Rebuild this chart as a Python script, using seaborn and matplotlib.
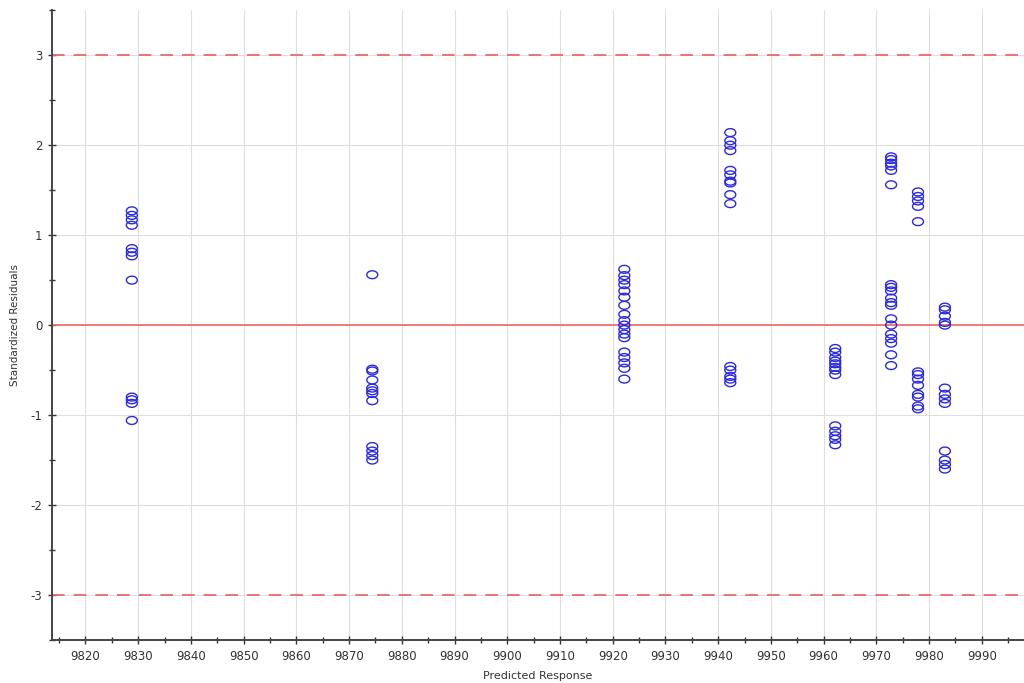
import numpy as np
import pandas as pd
import matplotlib
matplotlib.use("Agg")
import matplotlib.pyplot as plt
from matplotlib.path import Path
from matplotlib.ticker import MultipleLocator
import seaborn as sns

# Predicted response of each run group and the standardized residuals observed there
pred_a = 9828.8
resid_a = [1.27, 1.22, 1.17, 1.11, 0.85, 0.81, 0.77, 0.50, -0.80, -0.83, -0.87, -1.06]

pred_b = 9874.4
resid_b = [0.56, -0.49, -0.51, -0.61, -0.70, -0.73, -0.76, -0.84, -1.35, -1.40, -1.45, -1.50]

pred_c = 9922.2
resid_c = [0.62, 0.55, 0.50, 0.45, 0.38, 0.31, 0.22, 0.12, 0.05, 0.0, -0.05,
           -0.10, -0.14, -0.30, -0.36, -0.42, -0.48, -0.60]

pred_d = 9942.3
resid_d = [2.14, 2.05, 2.00, 1.94, 1.72, 1.67, 1.60, 1.58, 1.45, 1.35,
           -0.46, -0.50, -0.57, -0.60, -0.64]

pred_e = 9962.2
resid_e = [-0.26, -0.30, -0.36, -0.40, -0.43, -0.47, -0.50, -0.55,
           -1.12, -1.18, -1.23, -1.27, -1.33]

pred_f = 9972.8
resid_f = [1.87, 1.84, 1.80, 1.77, 1.72, 1.56, 0.45, 0.42, 0.38, 0.30, 0.25,
           0.22, 0.07, 0.0, -0.10, -0.15, -0.20, -0.33, -0.45]

pred_g = 9977.9
resid_g = [1.48, 1.43, 1.38, 1.32, 1.15, -0.52, -0.55, -0.60, -0.67, -0.77,
           -0.80, -0.90, -0.93]

pred_h = 9983.0
resid_h = [0.20, 0.17, 0.10, 0.03, 0.0, -0.70, -0.77, -0.82, -0.87,
           -1.40, -1.50, -1.55, -1.60]

groups = [(pred_a, resid_a), (pred_b, resid_b), (pred_c, resid_c), (pred_d, resid_d),
          (pred_e, resid_e), (pred_f, resid_f), (pred_g, resid_g), (pred_h, resid_h)]

limit_lines = [3, -3]

df = pd.DataFrame(
    [(p, r) for p, rs in groups for r in rs],
    columns=["Predicted Response", "Standardized Residuals"],
)

sns.set_theme(style="white")
plt.rcParams["font.family"] = ["DejaVu Sans"]

fig = plt.figure(figsize=(10.24, 6.83), dpi=100)
ax = fig.add_axes([0.051, 0.063, 0.949, 0.922])

# Slightly flattened open circle marker
theta = np.linspace(0, 2 * np.pi, 60)
ell = Path(np.column_stack([np.cos(theta), 0.72 * np.sin(theta)]), closed=True)

ax.grid(True, which="major", color="#dedede", linewidth=0.8)
ax.set_axisbelow(True)

ax.axhline(0, color="#f07070", linewidth=1.3, zorder=2)
for y in limit_lines:
    ax.axhline(y, color="#e86a6a", linewidth=1.3, dashes=(7, 5), zorder=2)

sns.scatterplot(
    data=df, x="Predicted Response", y="Standardized Residuals", ax=ax,
    marker=ell, s=62, facecolor="none", edgecolor="#2a2ae0", linewidth=1.0,
    zorder=3,
)

ax.set_xlim(9813.7, 9998)
ax.set_ylim(-3.5, 3.5)
ax.xaxis.set_major_locator(MultipleLocator(10))
ax.xaxis.set_minor_locator(MultipleLocator(5))
ax.yaxis.set_major_locator(MultipleLocator(1))
ax.yaxis.set_minor_locator(MultipleLocator(0.5))

for side in ["top", "right"]:
    ax.spines[side].set_visible(False)
for side in ["left", "bottom"]:
    ax.spines[side].set_color("#444444")
    ax.spines[side].set_linewidth(1.4)

ax.tick_params(axis="both", which="major", direction="inout", length=6, width=1,
               color="#333333", labelsize=8.5, labelcolor="#333333", pad=4,
               left=True, bottom=True)
ax.tick_params(axis="both", which="minor", direction="inout", length=5, width=1,
               color="#333333", left=True, bottom=True)
ax.set_yticklabels([f"{int(t)}" for t in ax.get_yticks()])

ax.set_xlabel("Predicted Response", fontsize=8, color="#333333", labelpad=6)
ax.set_ylabel("Standardized Residuals", fontsize=7.5, color="#333333", labelpad=8)

fig.savefig("out.png", dpi=100, facecolor="white")
